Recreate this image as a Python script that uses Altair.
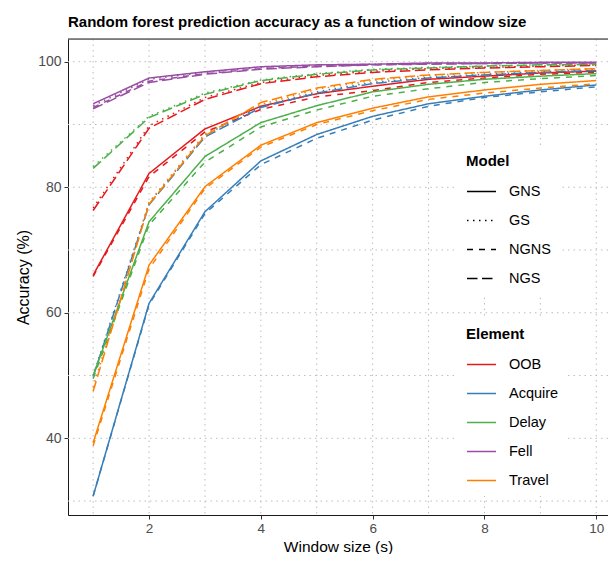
import altair as alt
import pandas as pd

windows = [1, 2, 3, 4, 5, 6, 7, 8, 9, 10]
elements = ["OOB", "Acquire", "Delay", "Fell", "Travel"]
models = ["GNS", "GS", "NGNS", "NGS"]
element_colors = ["#E41A1C", "#377EB8", "#4DAF4A", "#984EA3", "#FF7F00"]

oob_gns = [66.0, 82.2, 89.3, 92.9, 94.9, 96.1, 97.2, 97.7, 98.2, 98.5]
oob_gs = [76.7, 89.8, 94.3, 96.7, 97.8, 98.5, 98.9, 99.1, 99.3, 99.5]
oob_ngns = [65.8, 81.7, 88.8, 92.4, 94.4, 95.4, 96.7, 97.4, 98.0, 98.3]
oob_ngs = [76.3, 89.4, 94.0, 96.5, 97.6, 98.3, 98.7, 99.0, 99.2, 99.4]

acquire_gns = [30.8, 61.5, 76.1, 84.2, 88.4, 91.3, 93.3, 94.5, 95.5, 96.3]
acquire_gs = [50.0, 77.5, 88.3, 92.9, 95.2, 96.7, 97.5, 98.0, 98.4, 98.7]
acquire_ngns = [30.8, 61.3, 75.8, 83.6, 87.8, 90.7, 92.9, 94.3, 95.2, 96.0]
acquire_ngs = [49.8, 77.2, 88.0, 92.7, 95.0, 96.5, 97.4, 97.9, 98.3, 98.6]

delay_gns = [50.0, 74.5, 84.9, 90.3, 93.0, 95.2, 96.4, 97.2, 97.7, 98.1]
delay_gs = [83.3, 91.3, 95.0, 97.1, 98.1, 98.8, 99.1, 99.3, 99.5, 99.6]
delay_ngns = [49.5, 74.0, 84.0, 89.6, 92.3, 94.5, 95.7, 96.7, 97.3, 97.8]
delay_ngs = [83.0, 91.1, 94.8, 97.0, 98.0, 98.7, 99.0, 99.3, 99.5, 99.6]

fell_gns = [93.3, 97.4, 98.4, 99.2, 99.5, 99.6, 99.8, 99.8, 99.9, 99.9]
fell_gs = [93.0, 97.2, 98.3, 99.1, 99.4, 99.6, 99.7, 99.8, 99.8, 99.9]
fell_ngns = [92.7, 96.9, 98.1, 98.9, 99.3, 99.5, 99.7, 99.7, 99.8, 99.8]
fell_ngs = [92.5, 96.7, 98.0, 98.8, 99.2, 99.5, 99.6, 99.7, 99.8, 99.8]

travel_gns = [39.3, 67.6, 80.1, 86.7, 90.3, 92.6, 94.4, 95.5, 96.4, 97.0]
travel_gs = [48.1, 77.6, 88.5, 93.2, 95.6, 97.0, 97.8, 98.3, 98.6, 98.9]
travel_ngns = [38.8, 67.0, 79.8, 86.4, 90.0, 92.2, 94.0, 95.0, 95.8, 96.5]
travel_ngs = [47.5, 77.3, 88.2, 93.5, 95.8, 97.2, 97.9, 98.3, 98.6, 98.9]

y_grid = [30, 40, 50, 60, 70, 80, 90, 100]
x_grid = [1, 2, 3, 4, 5, 6, 7, 8, 9, 10]
y_ticks = [40, 60, 80, 100]
x_ticks = [2, 4, 6, 8, 10]

series = {
    ("OOB", "GNS"): oob_gns, ("OOB", "GS"): oob_gs,
    ("OOB", "NGNS"): oob_ngns, ("OOB", "NGS"): oob_ngs,
    ("Acquire", "GNS"): acquire_gns, ("Acquire", "GS"): acquire_gs,
    ("Acquire", "NGNS"): acquire_ngns, ("Acquire", "NGS"): acquire_ngs,
    ("Delay", "GNS"): delay_gns, ("Delay", "GS"): delay_gs,
    ("Delay", "NGNS"): delay_ngns, ("Delay", "NGS"): delay_ngs,
    ("Fell", "GNS"): fell_gns, ("Fell", "GS"): fell_gs,
    ("Fell", "NGNS"): fell_ngns, ("Fell", "NGS"): fell_ngs,
    ("Travel", "GNS"): travel_gns, ("Travel", "GS"): travel_gs,
    ("Travel", "NGNS"): travel_ngns, ("Travel", "NGS"): travel_ngs,
}

rows = []
for (el, mo), vals in series.items():
    for w, v in zip(windows, vals):
        rows.append({"window": w, "acc": v, "element": el, "model": mo,
                     "series": el + "_" + mo})
df = pd.DataFrame(rows)

FONT = "Liberation Sans"
W, H = 540, 476
xscale = alt.Scale(domain=[0.55, 0.55 + W / 55.9], nice=False, zero=False)
yscale = alt.Scale(domain=[27.78, 103.62], nice=False, zero=False)

xaxis = alt.Axis(values=x_ticks, grid=False, domain=True, domainColor="#1a1a1a",
                 domainWidth=1, ticks=True, tickColor="#333333", tickSize=4,
                 labelFont=FONT, labelFontSize=13.5, labelColor="#4D4D4D",
                 labelPadding=2, titleFont=FONT, titleFontSize=15.5,
                 titleFontWeight="normal", titleColor="black",
                 titleBaseline="alphabetic", titleY=36)
yaxis = alt.Axis(values=y_ticks, grid=False, domain=True, domainColor="#1a1a1a",
                 domainWidth=1, ticks=True, tickColor="#333333", tickSize=4,
                 labelFont=FONT, labelFontSize=14, labelColor="#4D4D4D",
                 labelPadding=3, titleFont=FONT, titleFontSize=16,
                 titleFontWeight="normal", titleColor="black", titlePadding=6)

X_TITLE = "Window size (s)"
Y_TITLE = "Accuracy (%)"
GRID_COLOR = "#BDBDBD"

hgrid = alt.Chart(pd.DataFrame({"g": y_grid})).mark_rule(
    color=GRID_COLOR, strokeWidth=1, strokeDash=[1.5, 4]
).encode(y=alt.Y("g:Q", scale=yscale, axis=yaxis, title=Y_TITLE))

vgrid = alt.Chart(pd.DataFrame({"g": x_grid})).mark_rule(
    color=GRID_COLOR, strokeWidth=1, strokeDash=[1.5, 4]
).encode(x=alt.X("g:Q", scale=xscale, axis=xaxis, title=X_TITLE))

top_border = alt.Chart(pd.DataFrame({"g": [0]})).mark_rule(
    color="#1a1a1a", strokeWidth=1
).encode(x=alt.value(0), x2=alt.value(W), y=alt.value(0))

legend_common = dict(
    orient="none", fillColor="white", padding=9,
    symbolType="stroke", symbolSize=841, symbolStrokeWidth=1.5,
    labelFont=FONT, labelFontSize=14.5, labelColor="black", labelOffset=12,
    titleFont=FONT, titleFontSize=15, titleFontWeight="bold", titleColor="black",
    titlePadding=7, rowPadding=7,
)

lines = alt.Chart(df).mark_line(strokeWidth=1.5).encode(
    x=alt.X("window:Q", scale=xscale, axis=xaxis, title=X_TITLE),
    y=alt.Y("acc:Q", scale=yscale, axis=yaxis, title=Y_TITLE),
    color=alt.Color("element:N",
                    scale=alt.Scale(domain=elements, range=element_colors),
                    legend=alt.Legend(title="Element", legendX=389, legendY=279,
                                      **legend_common)),
    strokeDash=alt.StrokeDash("model:N",
                              scale=alt.Scale(domain=models,
                                              range=[[1, 0], [1.5, 4.5], [6, 6], [10.5, 4.5]]),
                              legend=alt.Legend(title="Model", legendX=389, legendY=106,
                                                symbolStrokeColor="black",
                                                **legend_common)),
    detail="series:N",
)

chart = alt.layer(hgrid, vgrid, top_border, lines).properties(
    width=W, height=H,
    title=alt.TitleParams(
        "Random forest prediction accuracy as a function of window size",
        anchor="start", frame="group", font=FONT, fontSize=15,
        fontWeight="bold", color="black", offset=9),
    padding={"left": 60, "top": 31, "right": 0, "bottom": 39},
    autosize=alt.AutoSizeParams(type="none"),
).configure_view(stroke=None).configure(background="white")

chart.save("out.html", embed_options={"renderer": "svg", "actions": False})
